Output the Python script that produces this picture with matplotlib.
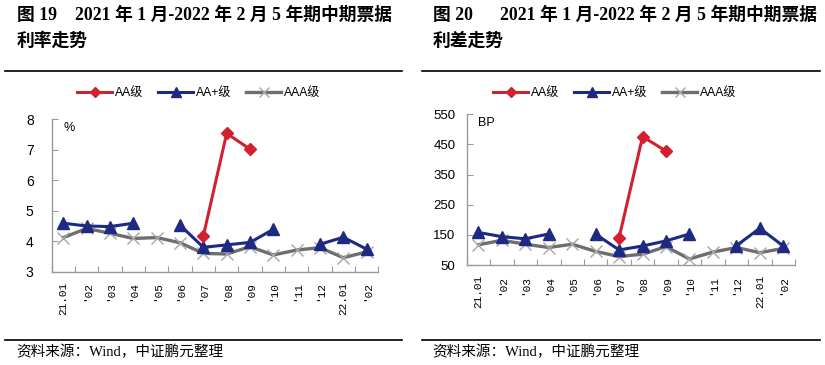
import numpy as np
import matplotlib
matplotlib.use("Agg")
import matplotlib.pyplot as plt
from matplotlib.lines import Line2D

nan = np.nan
months = ["21.01", "'02", "'03", "'04", "'05", "'06", "'07", "'08", "'09", "'10",
          "'11", "'12", "22.01", "'02"]

# Figure 19: yields (%)
rate_aa = [nan, nan, nan, nan, nan, nan, 4.17, 7.54, 7.02, nan, nan, nan, nan, nan]
rate_aap = [4.59, 4.50, 4.48, 4.59, nan, 4.53, 3.80, 3.88, 3.96, 4.39, nan, 3.90, 4.13, 3.74]
rate_aaa = [4.12, 4.42, 4.26, 4.09, 4.12, 3.95, 3.60, 3.58, 3.82, 3.55, 3.71, 3.79, 3.46, 3.65]

# Figure 20: spreads (BP)
sprd_aa = [nan, nan, nan, nan, nan, nan, 141, 476, 428, nan, nan, nan, nan, nan]
sprd_aap = [158, 144, 137, 153, nan, 152, 100, 113, 130, 153, nan, 114, 172, 113]
sprd_aaa = [117, 132, 119, 108, 119, 95, 78, 86, 111, 70, 93, 108, 91, 105]

series_names = ["AA级", "AA+级", "AAA级"]
RED = "#d2202f"
BLUE = "#1e2a82"
GRAY = "#6e6e6e"
XGRAY = "#a6a6a6"
SPINE = "#9a9a9a"

CJK = ["Liberation Sans", "Noto Sans CJK SC"]
TITLE_FONT = ["Liberation Serif", "Noto Sans CJK SC"]

fig = plt.figure(figsize=(8.25, 3.65), dpi=100)
W, H = 825, 365


def fx(px):
    return px / W


def fy(py):
    return 1 - py / H


def panel(rect, aa, aap, aaa, ylim, yticks, unit, ylab_size, ypad, xpad):
    ax = fig.add_axes(rect)
    x = np.arange(len(months))
    ax.plot(x, aaa, color=GRAY, lw=2.4, marker="x", ms=9, mew=1.0,
            mec=XGRAY, mfc=XGRAY, zorder=2)
    ax.plot(x, aap, color=BLUE, lw=2.2, marker="^", ms=8.5, mec=BLUE, mfc=BLUE, zorder=3)
    ax.plot(x, aa, color=RED, lw=2.2, marker="D", ms=6.5, mec=RED, mfc=RED, zorder=4)
    ax.set_xlim(-0.5, len(months) - 0.5)
    ax.set_ylim(*ylim)
    ax.set_yticks(yticks)
    ax.set_yticklabels([str(t) for t in yticks], family="Liberation Sans", fontsize=ylab_size)
    ax.set_xticks(np.arange(len(months) + 1) - 0.5)
    ax.set_xticklabels([])
    ax.set_xticks(x, minor=True)
    ax.set_xticklabels(months, minor=True, rotation=90, family="Liberation Mono",
                       fontsize=8, va="top", ha="center")
    ax.tick_params(axis="x", which="major", direction="in", length=4, color=SPINE)
    ax.tick_params(axis="x", which="minor", length=0, pad=xpad)
    ax.tick_params(axis="y", direction="in", length=4, color=SPINE, pad=ypad)
    for s in ["top", "right"]:
        ax.spines[s].set_visible(False)
    for s in ["left", "bottom"]:
        ax.spines[s].set_color(SPINE)
        ax.spines[s].set_linewidth(1.0)
    ax.text(0.035, 0.985, unit, transform=ax.transAxes, ha="left", va="top",
            fontsize=9, family="Liberation Sans")
    return ax


ax1 = panel([fx(51.7), fy(271.7), fx(378.3) - fx(51.7), fy(119.3) - fy(271.7)],
            rate_aa, rate_aap, rate_aaa, (3, 8), [3, 4, 5, 6, 7, 8], "%", 10, 13, 7)
ax2 = panel([fx(466.7), fy(265), fx(795) - fx(466.7), fy(114.3) - fy(265)],
            sprd_aa, sprd_aap, sprd_aaa, (50, 550), [50, 150, 250, 350, 450, 550], "BP", 9.5, 8, 7)

handles = [
    Line2D([], [], color=RED, lw=2.2, marker="D", ms=5, mec=RED, mfc=RED),
    Line2D([], [], color=BLUE, lw=2.2, marker="^", ms=7, mec=BLUE, mfc=BLUE),
    Line2D([], [], color=GRAY, lw=2.4, marker="x", ms=7.5, mew=1.0, mec=XGRAY),
]
for cx in (199, 615):
    fig.legend(handles, series_names, loc="center", bbox_to_anchor=(fx(cx), fy(93)),
               ncol=3, frameon=False, handlelength=2.9, handletextpad=0.25,
               columnspacing=1.2, prop={"family": CJK, "size": 8.7})

# Titles
TS = 12.8
fig.text(fx(17), fy(15), "图 19    2021 年 1 月-2022 年 2 月 5 年期中期票据",
         family=TITLE_FONT, weight="bold", fontsize=TS, ha="left", va="center")
fig.text(fx(17), fy(41), "利率走势", family=TITLE_FONT, weight="bold",
         fontsize=TS, ha="left", va="center")
fig.text(fx(433), fy(15), "图 20      2021 年 1 月-2022 年 2 月 5 年期中期票据",
         family=TITLE_FONT, weight="bold", fontsize=TS, ha="left", va="center")
fig.text(fx(433), fy(41), "利差走势", family=TITLE_FONT, weight="bold",
         fontsize=TS, ha="left", va="center")

# Rules
for (x0, x1) in ((5, 402), (422, 820)):
    for yy in (71, 340):
        fig.add_artist(Line2D([fx(x0), fx(x1)], [fy(yy), fy(yy)], color="black", lw=1.2))

# Sources
fig.text(fx(16), fy(352), "资料来源：Wind，中证鹏元整理", family=TITLE_FONT,
         fontsize=10.5, ha="left", va="center")
fig.text(fx(432), fy(352), "资料来源：Wind，中证鹏元整理", family=TITLE_FONT,
         fontsize=10.5, ha="left", va="center")

fig.savefig("out.png", dpi=100)
